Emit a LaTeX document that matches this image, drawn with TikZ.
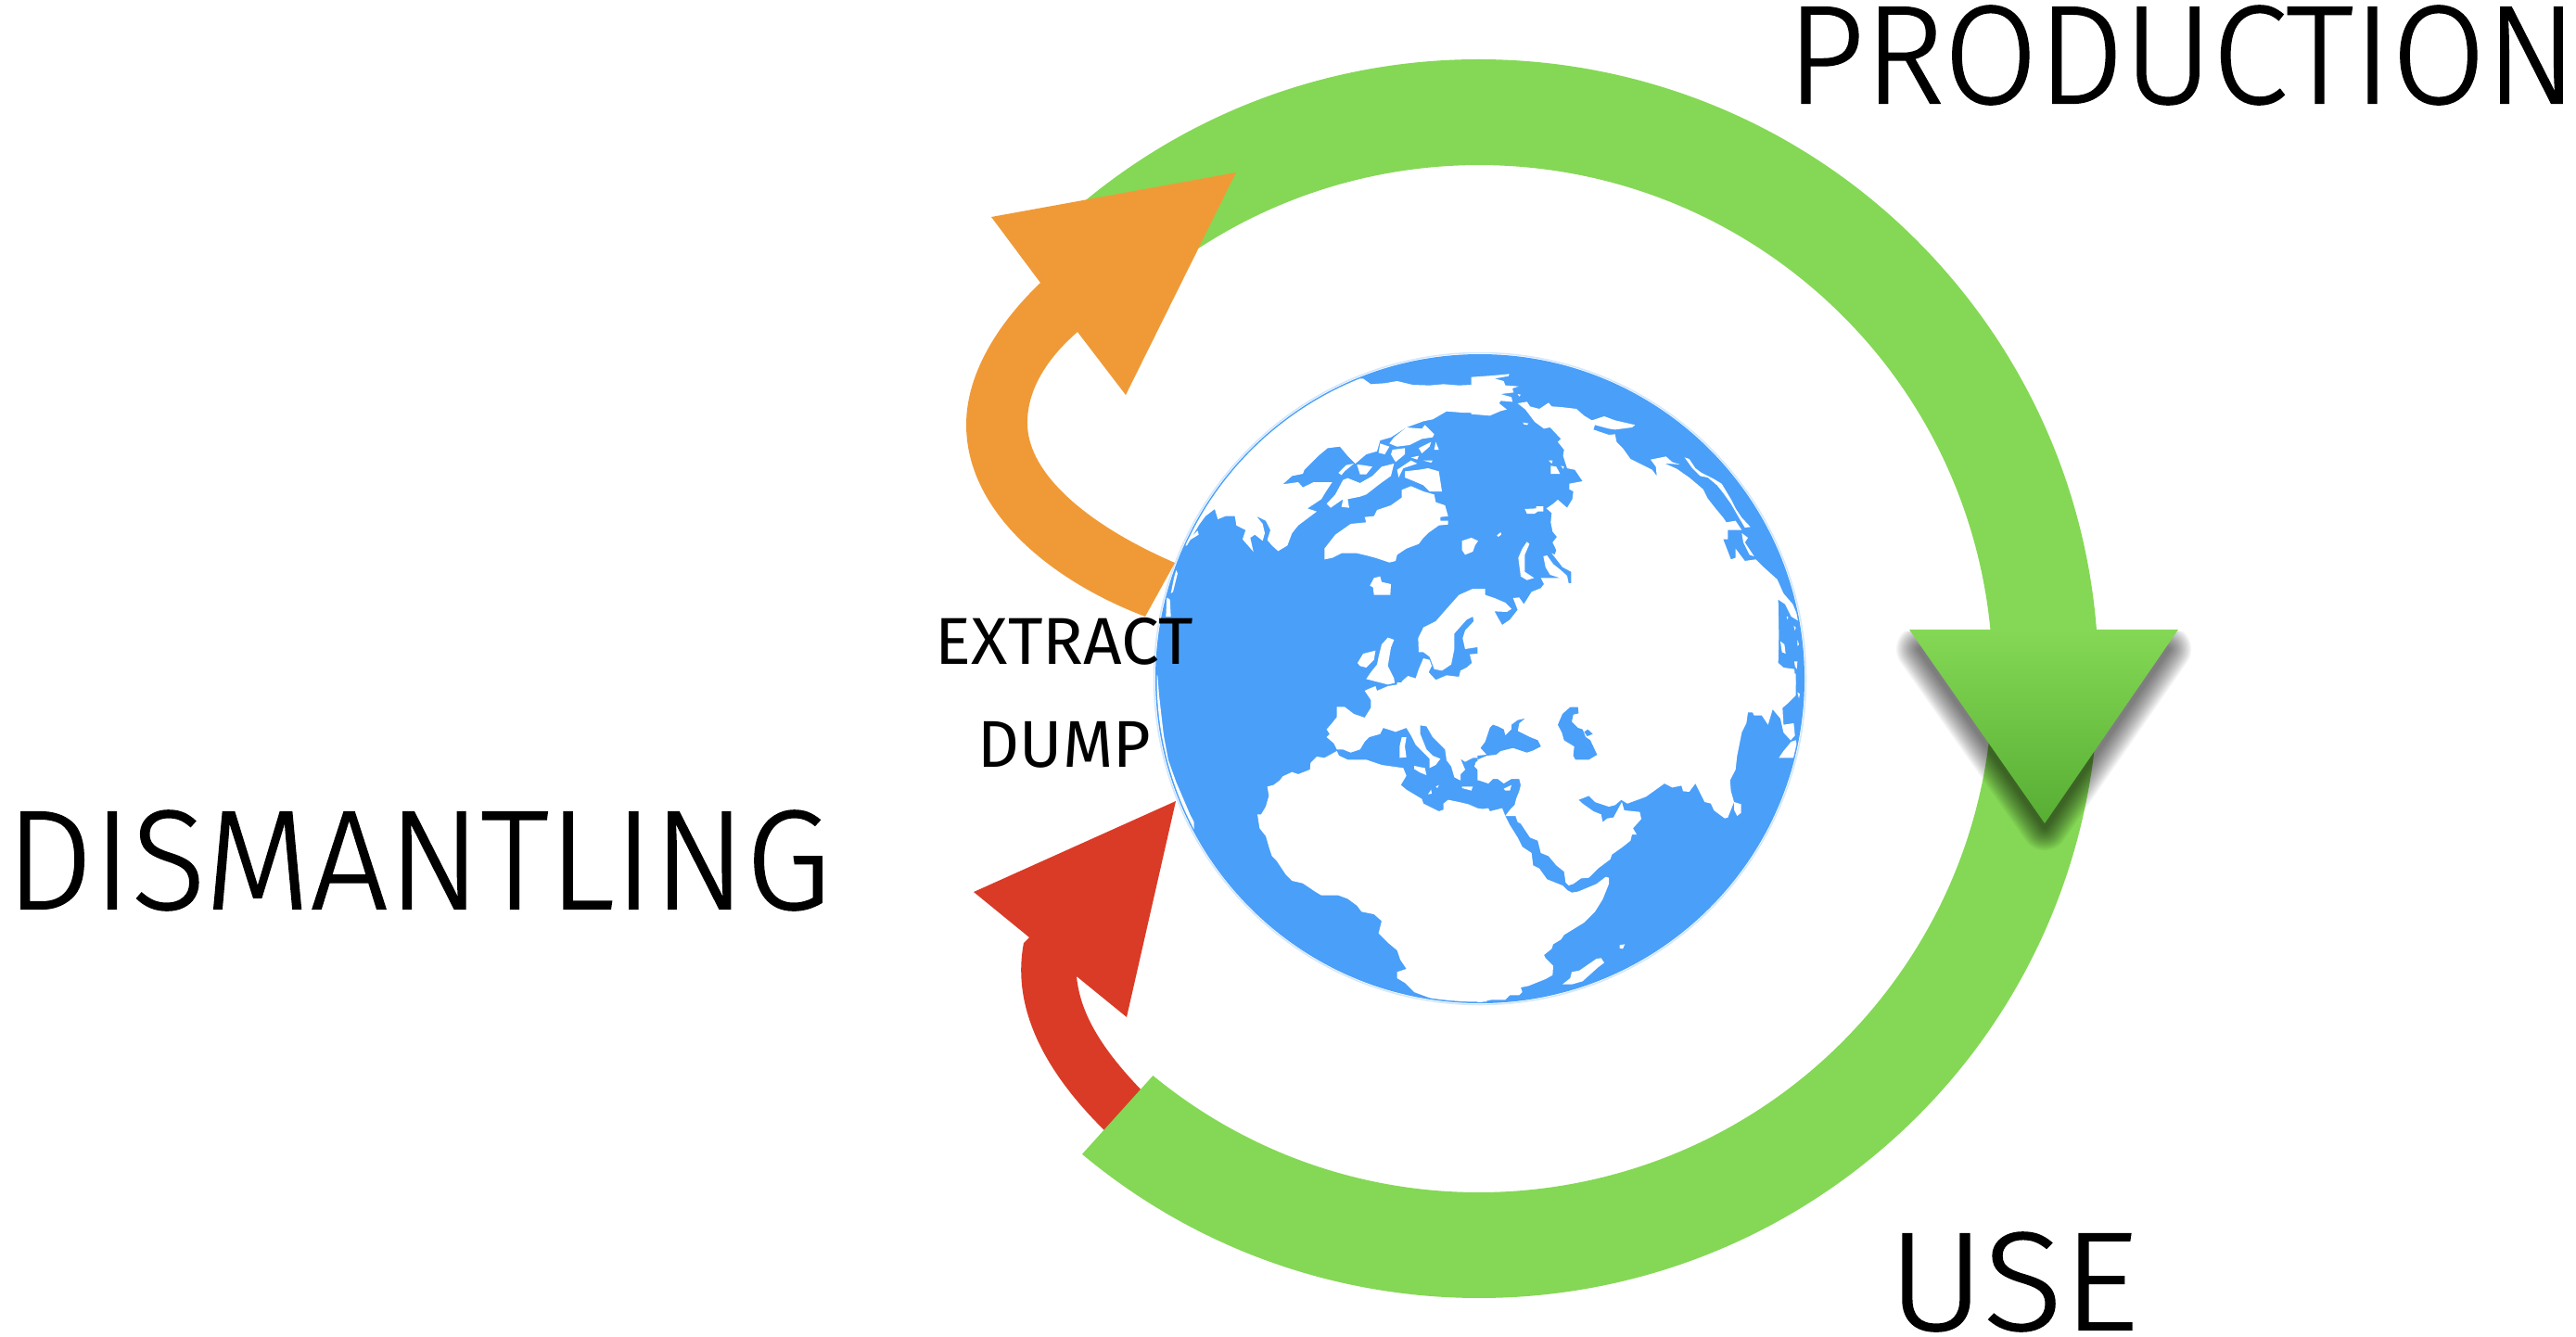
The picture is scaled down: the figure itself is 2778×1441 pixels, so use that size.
\documentclass[tikz,border=0pt]{standalone}
\usepackage{fontspec}
\usepackage{graphicx}
\newfontfamily\dinfont{Fira Sans}
\newfontfamily\dinbig{Fira Sans Light}[FakeBold=1]
\definecolor{globeblue}{HTML}{4A9FF9}
\definecolor{ringgreen}{HTML}{84D855}
\definecolor{darkgreen}{HTML}{57AE33}
\definecolor{arroworange}{HTML}{F09A37}
\definecolor{arrowred}{HTML}{DA3B26}
\newcommand\fittext[3]{\resizebox*{#1pt}{#2pt}{\dinfont #3}}
\newcommand\fitbig[3]{\resizebox*{#1pt}{#2pt}{\dinbig #3}}
\tikzset{
  land/.style={fill=white},
  sea/.style={fill=globeblue},
  label/.style={inner sep=0pt,outer sep=0pt,text=black},
  q5/.style={shift={(1240,375)},x=0.33333pt,y=0.33333pt},
  q6/.style={shift={(1595,375)},x=0.33333pt,y=0.33333pt},
  q7/.style={shift={(1240,730)},x=0.33333pt,y=0.33333pt},
  q8/.style={shift={(1595,730)},x=0.33333pt,y=0.33333pt}
}
\begin{document}
\begin{tikzpicture}[x=1pt,y=1pt,yscale=-1]
\useasboundingbox (0,0) rectangle (2778,1441);
% globe disc
\fill[globeblue] (1596,732) circle [radius=350];
\draw[globeblue!25,line width=1.5pt] (1596,732) circle [radius=351.5];
\begin{scope}
\clip (1596,732) circle [radius=348.5];
% ---- NW quadrant
\begin{scope}[q5]
\fill[land] plot coordinates {(640,0) (640,100) (690,100) (715,118) (760,115) (800,108) (850,120) (905,122) (950,118) (1000,122) (1040,120) (1085,95) (1085,212) (1010,210) (960,206) (915,232) (885,238) (830,258) (780,290) (745,300) (735,335) (700,345) (665,375) (640,350) (615,320) (575,325) (545,350) (500,395) (495,408) (460,415) (430,442) (480,435) (495,452) (530,435) (590,435) (570,465) (555,490) (510,520) (540,530) (480,575) (460,600) (445,640) (415,658) (395,640) (380,622) (390,590) (375,560) (345,545) (365,570) (372,600) (365,625) (340,605) (325,615) (335,660) (300,620) (310,590) (280,575) (275,545) (245,545) (220,555) (210,522) (180,545) (160,572) (120,640) (0,640)} -- cycle;
\fill[land] plot coordinates {(610,405) (635,380) (660,375) (630,400) (620,412)} -- cycle;
\fill[land] plot coordinates {(670,378) (690,380) (720,385) (700,410) (680,410)} -- cycle;
\fill[land] plot coordinates {(625,428) (640,422) (680,438) (720,415) (750,385) (790,375) (780,415) (745,440) (700,475) (680,482) (640,490) (645,518) (620,515) (625,490) (585,518) (572,505) (600,475)} -- cycle;
\fill[land] plot coordinates {(790,290) (830,258) (880,262) (890,250) (920,280) (915,290) (880,295) (840,315) (800,320) (775,310)} -- cycle;
\fill[land] plot coordinates {(745,310) (775,320) (760,345) (740,340)} -- cycle;
\fill[land] plot coordinates {(785,330) (825,325) (825,345) (795,370) (780,345)} -- cycle;
\fill[land] plot coordinates {(870,325) (910,305) (905,320) (880,342)} -- cycle;
\fill[land] plot coordinates {(925,305) (935,330) (920,330)} -- cycle;
\fill[land] plot coordinates {(800,395) (845,365) (865,375) (820,390) (805,420)} -- cycle;
\fill[land] plot coordinates {(825,400) (870,395) (900,390) (935,400) (945,465) (905,465) (885,445) (850,430) (825,420)} -- cycle;
\fill[land] plot coordinates {(845,355) (870,350) (865,362)} -- cycle;
\fill[land] plot coordinates {(885,365) (915,365) (910,372)} -- cycle;
\fill[land] plot coordinates {(565,650) (600,605) (650,570) (700,565) (695,548) (725,545) (735,525) (780,510) (815,485) (815,460) (845,448) (885,465) (920,475) (925,500) (955,510) (965,545) (940,548) (940,560) (965,560) (965,572) (935,575) (900,600) (885,615) (870,635) (830,650) (800,670) (795,690) (775,695) (730,680) (700,672) (670,665) (620,665) (590,680) (565,685)} -- cycle;
\fill[land] plot coordinates {(725,745) (745,740) (750,758) (780,765) (778,800) (725,800) (722,775) (712,770)} -- cycle;
\fill[land] plot coordinates {(1010,625) (1040,615) (1062,625) (1052,640) (1045,660) (1020,670) (1010,655)} -- cycle;
\fill[land] plot coordinates {(870,985) (868,940) (885,905) (925,885) (960,845) (1000,800) (1045,780) (1085,780) (1085,965) (1020,975) (1012,940) (1020,915) (1048,885) (1045,870) (1025,880) (985,925) (985,975) (975,1025) (945,1045) (920,1040) (905,1000) (885,985)} -- cycle;
\fill[land] plot coordinates {(1085,988) (1035,992) (1042,1020) (1025,1035) (1005,1045) (1000,1065) (960,1060) (925,1075) (902,1050) (912,1030) (905,1010) (885,1005) (870,1040) (860,1070) (835,1062) (815,1080) (815,1090) (1085,1090)} -- cycle;
\fill[land] plot coordinates {(672,1020) (690,990) (730,980) (725,1010) (700,1035) (680,1030)} -- cycle;
\fill[land] plot coordinates {(740,1000) (750,960) (770,938) (790,945) (780,970) (775,1000) (770,1030) (790,1070) (792,1085) (770,1090) (700,1072) (715,1050) (735,1025)} -- cycle;
\fill[land] plot coordinates {(155,592) (158,605) (125,625) (118,640) (120,625)} -- cycle;
\fill[land] plot coordinates {(85,720) (90,730) (75,790) (68,795) (78,745)} -- cycle;
\fill[land] plot coordinates {(55,808) (65,815) (68,870) (52,870)} -- cycle;
\end{scope}
% ---- NE quadrant
\begin{scope}[q6]
\fill[land] plot coordinates {(-25,95) (45,90) (98,85) (95,92) (50,100) (80,108) (85,122) (128,125) (108,132) (112,145) (70,150) (105,160) (108,175) (70,172) (65,180) (90,200) (70,205) (35,220) (-25,215)} -- cycle;
\fill[land] plot coordinates {(-5,1090) (-5,780) (20,800) (50,810) (85,825) (105,845) (90,855) (50,853) (62,875) (75,897) (100,880) (125,848) (110,810) (130,808) (145,830) (170,790) (200,778) (210,765) (200,745) (262,745) (230,735) (215,710) (208,675) (220,672) (240,700) (265,720) (285,738) (290,762) (298,762) (298,725) (270,710) (235,665) (245,670) (250,655) (238,630) (252,612) (238,595) (232,565) (235,535) (218,520) (240,505) (255,492) (285,518) (302,490) (305,465) (292,458) (292,440) (335,432) (310,395) (285,390) (272,350) (275,330) (255,305) (265,295) (230,258) (210,262) (180,240) (150,200) (125,180) (155,175) (165,190) (195,198) (225,178) (235,190) (265,192) (315,198) (340,220) (365,235) (405,222) (440,235) (505,250) (495,258) (440,265) (420,262) (375,250) (370,265) (420,282) (440,280) (445,305) (465,325) (490,360) (560,395) (575,415) (572,385) (555,362) (605,352) (625,370) (650,378) (600,374) (640,392) (680,420) (725,458) (740,488) (765,520) (790,550) (800,565) (830,560) (850,590) (815,590) (805,590) (805,620) (790,620) (815,685) (830,680) (830,650) (860,690) (895,685) (915,705) (965,750) (985,795) (1015,830) (1030,865) (1035,885) (1010,870) (990,830) (968,815) (970,930) (968,1020) (985,1035) (1020,1040) (1025,1090)} -- cycle;
\fill[land] plot coordinates {(665,355) (680,360) (700,390) (720,405) (760,425) (785,440) (815,490) (830,520) (850,550) (878,580) (860,582) (838,545) (815,505) (790,470) (770,445) (740,420) (715,415) (690,390)} -- cycle;
\fill[land] plot coordinates {(850,600) (870,615) (860,630) (890,675) (875,670) (855,630)} -- cycle;
\fill[land] plot coordinates {(125,150) (135,152) (130,158)} -- cycle;
\fill[land] plot coordinates {(142,242) (160,245) (155,250) (145,248)} -- cycle;
\fill[land] plot coordinates {(225,365) (238,365) (235,375)} -- cycle;
\fill[land] plot coordinates {(232,382) (250,385) (262,408) (232,408)} -- cycle;
\fill[land] plot coordinates {(265,382) (275,385) (272,392)} -- cycle;
\fill[land] plot coordinates {(148,522) (185,520) (185,513) (208,513) (208,530) (190,530) (180,537) (155,537)} -- cycle;
\fill[land] plot coordinates {(58,607) (70,597) (72,605) (62,612)} -- cycle;
\fill[land] plot coordinates {(155,628) (163,635) (148,670) (148,725) (178,745) (155,752) (135,740) (127,680) (140,650)} -- cycle;
\fill[land] plot coordinates {(975,950) (988,960) (992,990) (980,985)} -- cycle;
\fill[land] plot coordinates {(1020,1015) (1030,1015) (1028,1040) (1022,1030)} -- cycle;
\fill[land] plot coordinates {(1018,900) (1025,905) (1022,915)} -- cycle;
\fill[land] plot coordinates {(995,870) (1000,870) (998,880)} -- cycle;
\fill[land] plot coordinates {(1030,945) (1035,960) (1030,965)} -- cycle;
\end{scope}
% ---- SW quadrant
\begin{scope}[q7]
\fill[land] plot coordinates {(1090,18) (800,18) (800,25) (770,30) (735,45) (730,30) (710,38) (695,45) (715,75) (715,100) (695,132) (660,120) (630,97) (605,97) (605,130) (585,155) (572,170) (582,185) (572,195) (595,215) (605,235) (625,235) (650,245) (680,235) (695,210) (710,195) (745,185) (755,165) (795,178) (830,165) (845,190) (860,220) (880,240) (905,265) (905,295) (925,285) (940,265) (915,255) (895,235) (885,210) (875,185) (875,157) (895,160) (915,195) (955,235) (960,270) (975,290) (985,325) (1005,335) (1005,315) (1020,300) (1005,265) (1020,275) (1045,262) (1075,262) (1090,255)} -- cycle;
\fill[land] plot coordinates {(1055,275) (1090,262) (1090,342) (1078,335) (1065,305) (1050,290)} -- cycle;
\fill[land] plot coordinates {(815,195) (830,195) (825,225) (830,260) (808,262) (808,225)} -- cycle;
\fill[land] plot coordinates {(855,288) (890,295) (895,318) (875,310) (855,298)} -- cycle;
\fill[land] plot coordinates {(1010,355) (1045,355) (1040,368) (1010,360)} -- cycle;
\fill[land] plot coordinates {(900,380) (910,365) (912,378)} -- cycle;
\fill[land] plot coordinates {(925,355) (935,350) (930,360)} -- cycle;
\fill[land] plot coordinates {(605,240) (565,262) (540,258) (520,278) (518,300) (480,315) (460,308) (430,322) (420,335) (400,350) (380,355) (385,385) (375,420) (360,445) (348,445) (355,490) (375,515) (385,550) (395,580) (410,595) (440,640) (460,660) (495,668) (535,695) (555,707) (610,707) (640,718) (670,740) (685,760) (725,768) (750,790) (740,830) (770,860) (800,885) (810,915) (830,945) (800,955) (800,975) (825,990) (855,1020) (895,1035) (925,1045) (1000,1053) (1090,1053) (1090,430) (1060,425) (1030,412) (1000,405) (965,398) (950,410) (950,430) (935,435) (885,410) (880,395) (830,365) (812,350) (830,320) (820,295) (785,290) (750,285) (700,268) (640,268) (612,255)} -- cycle;
\fill[land] plot coordinates {(10,-5) (25,-5) (30,60) (38,130) (45,190) (60,270) (85,340) (130,445) (143,470) (143,495) (125,470) (85,380) (50,290) (30,200) (15,100)} -- cycle;
\end{scope}
% ---- SE quadrant
\begin{scope}[q8]
\fill[land] plot coordinates {(-5,430) (30,425) (35,435) (75,425) (85,450) (100,480) (125,520) (140,550) (170,570) (175,610) (195,620) (220,655) (270,675) (285,690) (300,698) (320,695) (380,670) (410,647) (420,650) (420,670) (400,720) (375,760) (340,795) (275,835) (265,850) (240,865) (235,880) (210,900) (215,910) (240,935) (238,965) (215,978) (160,1000) (135,1005) (140,1020) (130,1030) (100,1030) (85,1045) (40,1045) (0,1053) (-5,1053)} -- cycle;
\fill[land] plot coordinates {(-5,-10) (1025,-10) (1025,60) (1000,85) (982,100) (985,155) (1018,150) (1022,190) (1008,205) (985,180) (975,135) (950,105) (935,155) (915,125) (890,125) (885,115) (870,115) (865,150) (850,180) (835,255) (830,300) (812,335) (815,370) (825,405) (805,455) (795,458) (760,432) (750,410) (730,405) (700,345) (680,372) (660,370) (655,352) (625,358) (600,345) (540,388) (480,410) (460,398) (440,415) (420,420) (375,405) (355,385) (322,398) (335,410) (370,435) (395,445) (400,470) (415,458) (435,455) (462,405) (470,432) (520,437) (525,460) (498,490) (510,510) (495,510) (490,530) (465,550) (430,575) (425,590) (385,620) (355,650) (330,652) (305,670) (290,675) (280,665) (275,630) (250,610) (225,580) (200,570) (190,530) (165,520) (135,475) (125,470) (118,450) (100,430) (115,415) (120,395) (130,370) (135,350) (130,330) (105,330) (80,345) (60,330) (45,330) (30,345) (0,335) (-5,335)} -- cycle;
\fill[land] plot coordinates {(100,430) (85,450) (118,450) (110,432)} -- cycle;
\fill[land] plot coordinates {(825,405) (848,412) (848,440) (835,450) (825,430)} -- cycle;
\fill[land] plot coordinates {(270,995) (295,975) (300,955) (325,950) (380,912) (395,910) (405,925) (385,940) (335,985) (300,995)} -- cycle;
\fill[land] plot coordinates {(455,868) (472,865) (465,880) (455,878)} -- cycle;
\fill[land] plot coordinates {(970,262) (985,240) (1010,210) (1025,205) (1030,235) (1020,262)} -- cycle;
\fill[land] plot coordinates {(1030,50) (1038,55) (1035,70)} -- cycle;
\fill[sea] plot coordinates {(5,230) (20,210) (35,165) (45,155) (60,160) (80,170) (85,190) (105,170) (105,155) (125,140) (148,135) (130,150) (125,175) (165,195) (190,205) (200,225) (175,238) (155,245) (110,230) (70,240) (55,252) (25,255) (-5,268) (-5,255) (25,252)} -- cycle;
\fill[sea] plot coordinates {(255,155) (270,120) (295,98) (320,98) (322,118) (305,122) (300,145) (320,165) (335,170) (345,195) (360,205) (382,252) (355,268) (312,268) (305,255) (308,225) (275,205) (268,180)} -- cycle;
\fill[sea] plot coordinates {(340,178) (352,170) (368,185) (350,192)} -- cycle;
\fill[land] plot coordinates {(80,362) (105,350) (100,368) (85,368)} -- cycle;
\end{scope}
\end{scope}
% red arrow
\fill[arrowred] (1268,864) -- (1215,1097) -- (1161,1053) .. controls (1165,1095) and (1190,1135) .. (1240,1185) -- (1194,1222) .. controls (1130,1160) and (1090,1090) .. (1104,1017) -- (1110,1011) -- (1050,962) -- cycle;
% green ring
\fill[ringgreen,shift={(1595,732)}] (230:668) arc (230:489.85:668) -- (489.4:554) arc (489.4:230:554) -- cycle;
% orange arrow
\fill[arroworange] (1069,234) -- (1333,186) -- (1214,426) -- (1162,358) .. controls (1125,390) and (1107,425) .. (1108,458) .. controls (1109,510) and (1170,565) .. (1267,607) -- (1235,665) .. controls (1130,625) and (1042,550) .. (1042,458) .. controls (1042,400) and (1080,345) .. (1122,305) -- cycle;
% shadow of the green head
\begin{scope}
\clip (1900,681) rectangle (2500,1000);
\foreach \w in {50,47,44,41,38,35,32,29,26,23,20,17,14,11,8,5}{
  \draw[black,opacity=0.042,line width=\w pt,line join=round] (2070,700) -- (2338,700) -- (2205,892) -- cycle;
}
\end{scope}
% green head
\shade[top color=ringgreen,bottom color=darkgreen] (2059,679) -- (2349,679) -- (2205,888) -- cycle;
% labels
\node[label] (production) at (2353,59.5) {\fitbig{852}{107}{PRODUCTION}};
\node[label] (dismantling) at (451,928) {\fitbig{889}{108}{DISMANTLING}};
\node[label] (use) at (2171,1382.5) {\fitbig{270}{107}{USE}};
\node[label] (extract) at (1148,691.5) {\fittext{278}{51}{EXTRACT}};
\node[label] (dump) at (1148,803) {\fittext{186}{50}{DUMP}};
\end{tikzpicture}
\end{document}
